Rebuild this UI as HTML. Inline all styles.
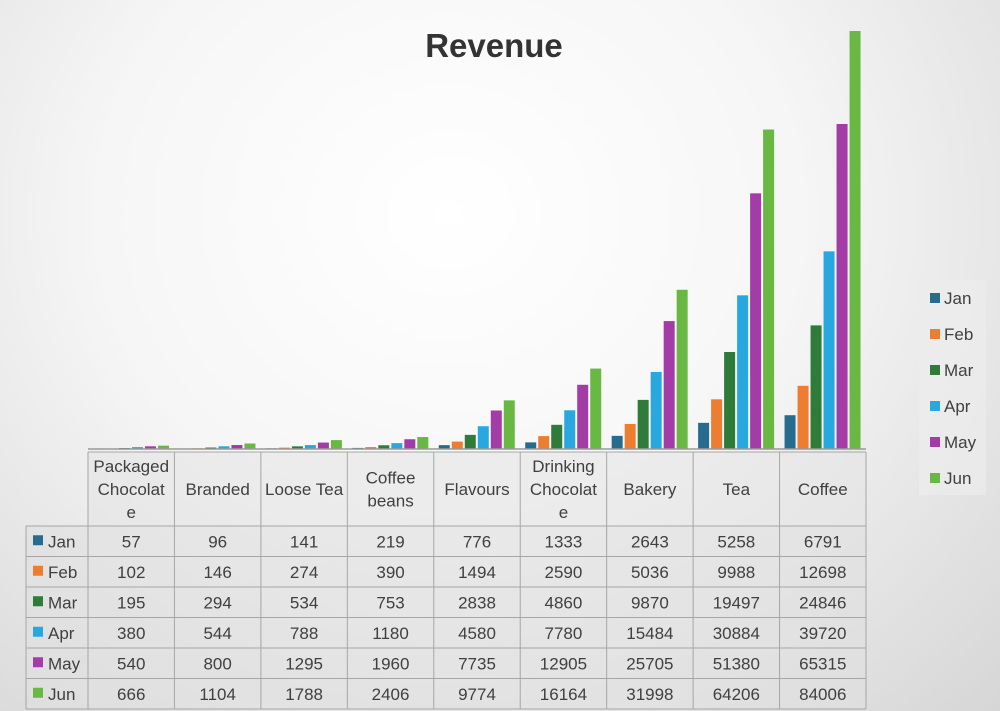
<!DOCTYPE html>
<html><head><meta charset="utf-8">
<style>
html,body{margin:0;padding:0;}
body{width:1000px;height:711px;overflow:hidden;font-family:"Liberation Sans",sans-serif;
background:radial-gradient(ellipse at 45% 30%,#ffffff 0%,#f6f6f6 45%,#d6d6d6 100%);}
svg{position:absolute;left:0;top:0;}
</style></head>
<body>
<svg id="chart" width="1000" height="711">
<text x="494" y="57" text-anchor="middle" font-size="33" font-weight="bold" fill="#333">Revenue</text>
<g id="bars"></g>
<g id="table"></g>
<g id="legend"></g>
</svg>
<script>
const categories=[["Packaged","Chocolat","e"],["Branded"],["Loose Tea"],["Coffee","beans"],["Flavours"],["Drinking","Chocolat","e"],["Bakery"],["Tea"],["Coffee"]];
const seriesNames=["Jan","Feb","Mar","Apr","May","Jun"];
const colors=["#276c8e","#ed7d31","#2f7b3a","#29a8e0","#a33ca6","#69b844"];
const jan=[57,96,141,219,776,1333,2643,5258,6791];
const feb=[102,146,274,390,1494,2590,5036,9988,12698];
const mar=[195,294,534,753,2838,4860,9870,19497,24846];
const apr=[380,544,788,1180,4580,7780,15484,30884,39720];
const may=[540,800,1295,1960,7735,12905,25705,51380,65315];
const jun=[666,1104,1788,2406,9774,16164,31998,64206,84006];
const series=[jan,feb,mar,apr,may,jun];
const yMax=84006;
const NS="http://www.w3.org/2000/svg";
const px0=88,px1=866,base=449,plotTop=31;
const cw=(px1-px0)/categories.length;
const yScale=v=>base-(v/yMax)*(base-plotTop);
function mk(tag,attrs,parent){const e=document.createElementNS(NS,tag);for(const k in attrs)e.setAttribute(k,attrs[k]);parent.appendChild(e);return e;}
const bars=document.getElementById('bars');
series.forEach((s,si)=>{s.forEach((v,ci)=>{
 const y=yScale(v);
 const r=mk('rect',{x:px0+ci*cw+5+si*13,y:y,width:11,height:base-y,fill:colors[si]},bars);
 
 
});});
const tb=document.getElementById('table');
const hdrTop=452,hdrBot=526,rowH=30.5,left=26;
const line='#a6a6a6';
mk('rect',{x:px0,y:hdrTop,width:px1-px0,height:hdrBot-hdrTop,fill:'#e4e4e4','fill-opacity':0.6},tb);
mk('rect',{x:left,y:hdrBot,width:px1-left,height:rowH*6,fill:'#e0e0e0','fill-opacity':0.6},tb);
mk('line',{x1:px0,y1:base,x2:px1,y2:base,stroke:'#999','stroke-width':1.5},tb);
for(let i=0;i<=categories.length;i++){const x=px0+i*cw;mk('line',{x1:x,y1:hdrTop,x2:x,y2:hdrBot+rowH*6,stroke:line},tb);}
mk('line',{x1:left,y1:hdrBot,x2:left,y2:hdrBot+rowH*6,stroke:line},tb);
mk('line',{x1:px0,y1:hdrTop,x2:px1,y2:hdrTop,stroke:line},tb);
for(let r=0;r<=6;r++){const y=hdrBot+r*rowH;mk('line',{x1:left,y1:y,x2:px1,y2:y,stroke:line},tb);}
categories.forEach((c,ci)=>{
 const cx=px0+ci*cw+cw/2;const n=c.length;const cy=(hdrTop+hdrBot)/2-(n-1)*11.5+6;
 c.forEach((ln,li)=>{const t=mk('text',{x:cx,y:cy+li*23,'text-anchor':'middle','font-size':17,fill:'#404040'},tb);t.textContent=ln;
 });
});
series.forEach((s,si)=>{
 const y=hdrBot+si*rowH+rowH/2+6;
 mk('rect',{x:33,y:y-12,width:10,height:10,fill:colors[si]},tb);
 const lt=mk('text',{x:48,y:y,'font-size':17,fill:'#404040'},tb);lt.textContent=seriesNames[si];
 
 s.forEach((v,ci)=>{const t=mk('text',{x:px0+ci*cw+cw/2,y:y,'text-anchor':'middle','font-size':17,fill:'#404040'},tb);t.textContent=v;
 });
});
const lg=document.getElementById('legend');
mk('rect',{x:919,y:280,width:67,height:215,fill:'#ececec','fill-opacity':0.7},lg);
seriesNames.forEach((n,i)=>{const y=298+i*36;
 mk('rect',{x:930,y:y-5,width:10,height:10,fill:colors[i]},lg);
 const t=mk('text',{x:944,y:y+6,'font-size':17,fill:'#404040'},lg);t.textContent=n;
 });
</script>
</body></html>
